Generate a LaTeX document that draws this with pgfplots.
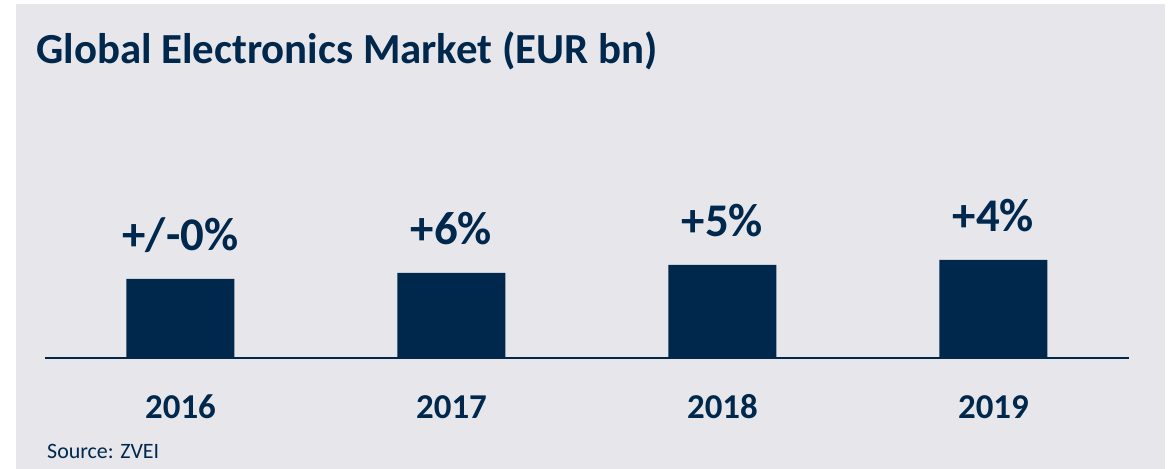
\documentclass[border=0pt]{standalone}
\usepackage{fontspec}
\setmainfont{Carlito}
\usepackage{pgfplots}
\pgfplotsset{compat=1.18}
\usepackage{pgfplotstable}
\definecolor{navy}{RGB}{0,40,77}
\definecolor{bg}{RGB}{231,230,235}
\pgfplotstableread{
x y label
0 79 {+/-0\%}
1 85 {+6\%}
2 93 {+5\%}
3 98 {+4\%}
}\datatable
\begin{document}
\begin{tikzpicture}[x=1bp,y=1bp]
\fill[white] (0,0) rectangle (1176,469);
\fill[bg] (16,0) rectangle (1165,465);
\node[anchor=base west, inner sep=0, text=navy, font=\fontsize{43}{50}\selectfont\bfseries] at (36,405) {Global Electronics Market (EUR bn)};
\node[anchor=base west, inner sep=0, text=navy, font=\fontsize{22}{26}\selectfont] at (47,10) {Source: ZVEI};
\begin{axis}[
  at={(45bp,111bp)}, anchor=south west,
  scale only axis, width=1084bp, height=100bp,
  xmin=-0.5, xmax=3.5, ymin=0, ymax=100,
  axis x line*=bottom, hide y axis,
  x axis line style={navy, line width=2bp},
  xtick={0,1,2,3}, xticklabels={2016,2017,2018,2019},
  major tick length=0pt,
  xticklabel style={font=\fontsize{35}{42}\selectfont\bfseries, text=navy, anchor=base, inner sep=0pt, yshift=-61bp},
  ybar, bar width=108bp,
  clip=false,
  nodes near coords,
  point meta=explicit symbolic,
  every node near coord/.append style={font=\fontsize{47}{56}\selectfont\bfseries, text=navy, inner sep=0pt, text depth=0pt, anchor=south, yshift=28bp},
]
\addplot[fill=navy, draw=none] table[x=x, y=y, meta=label] {\datatable};
\end{axis}
\end{tikzpicture}
\end{document}
